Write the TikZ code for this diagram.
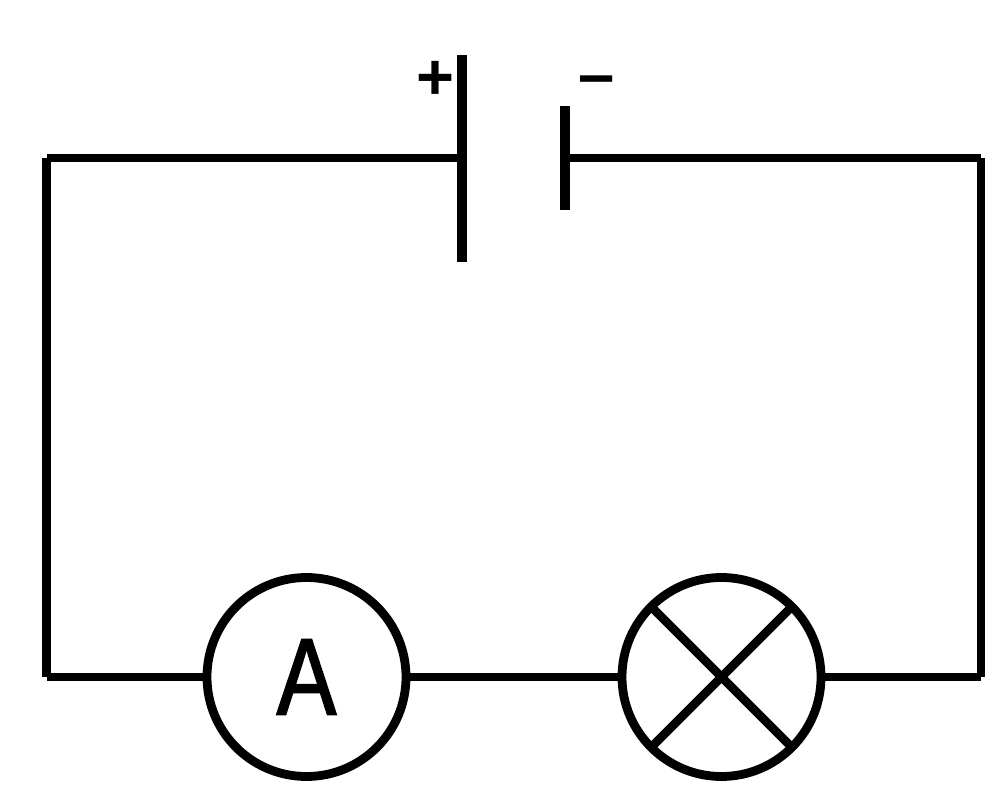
\documentclass[tikz,border=0pt]{standalone}
\usepackage{fontspec}
\setsansfont{Liberation Sans}
\newfontfamily\meterfont[FakeStretch=0.82,FakeBold=1.6]{Liberation Sans}
\definecolor{WireBlack}{HTML}{000000}
\usetikzlibrary{calc}
\begin{document}
\begin{tikzpicture}[
  % Leitung
  wire/.style={
    draw=WireBlack,
    line width=5pt
  },
  % Platte der Batterie
  plate/.style={
    draw=WireBlack,
    line width=5.2pt
  },
  % Messgeraet und Lampe
  meter/.style={
    circle,
    draw=WireBlack,
    line width=5pt,
    fill=white,
    minimum size=3.98cm,
    inner sep=0pt,
    outer sep=0pt,
    font=\meterfont\fontsize{62}{62}\selectfont
  },
  % Pol-Zeichen
  pollbl/.style={
    font=\sffamily\bfseries\fontsize{37}{37}\selectfont,
    text=WireBlack,
    inner sep=0pt
  }
]

% HINTERGRUND
\useasboundingbox (0,0) rectangle (20.04,15.88);

% BATTERIE
\coordinate (plusTop) at (9.24,14.78);
\coordinate (plusBot) at (9.24,10.64);
\coordinate (minusTop) at (11.3,13.76);
\coordinate (minusBot) at (11.3,11.68);
\coordinate (plusMid) at (9.24,12.72);
\coordinate (minusMid) at (11.3,12.72);
\draw[plate] (plusTop) -- (plusBot);
\draw[plate] (minusTop) -- (minusBot);
\node[pollbl] (plus) at (8.7,14.28) {+};
\node[pollbl] (minus) at (11.93,14.16) {--};

% ECKEN
\coordinate (cornerTL) at (0.93,12.72);
\coordinate (cornerTR) at (19.62,12.72);
\coordinate (cornerBL) at (0.93,2.34);
\coordinate (cornerBR) at (19.62,2.34);

% AMPEREMETER
\node[meter] (ammeter) at (6.13,2.34) {A};

% LAMPE
\node[meter] (lamp) at (14.43,2.34) {};
\draw[wire] (lamp.north west) -- (lamp.south east);
\draw[wire] (lamp.north east) -- (lamp.south west);

% LEITUNGEN
\draw[wire] (plusMid) -- (cornerTL);
\draw[wire] (cornerTL) -- (cornerBL);
\draw[wire] (cornerBL) -- (ammeter.west);
\draw[wire] (ammeter.east) -- (lamp.west);
\draw[wire] (lamp.east) -- (cornerBR);
\draw[wire] (cornerBR) -- (cornerTR);
\draw[wire] (cornerTR) -- (minusMid);

\end{tikzpicture}
\end{document}
